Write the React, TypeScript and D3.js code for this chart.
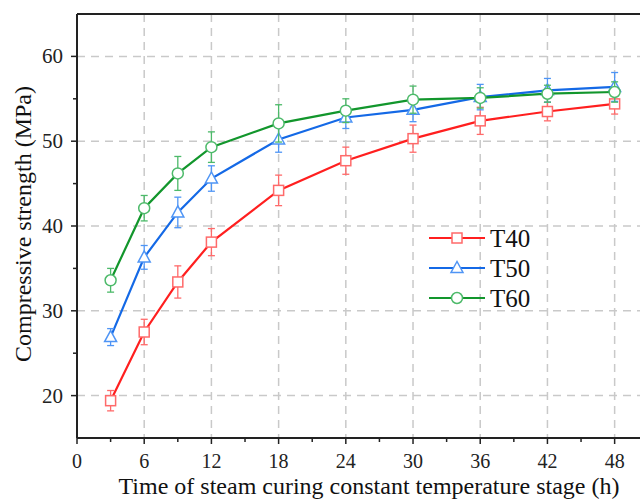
import React from "react"
import * as d3 from "d3"

// strength of the three steam curing temperatures against curing time
const hours = [3, 6, 9, 12, 18, 24, 30, 36, 42, 48]
const t40 = [19.4, 27.5, 33.4, 38.1, 44.2, 47.7, 50.3, 52.4, 53.5, 54.4]
const t50 = [26.9, 36.3, 41.6, 45.6, 50.2, 52.8, 53.7, 55.2, 56.0, 56.4]
const t60 = [33.6, 42.1, 46.2, 49.3, 52.1, 53.6, 54.9, 55.1, 55.6, 55.8]
const t40Err = [1.2, 1.5, 1.9, 1.6, 1.8, 1.6, 1.6, 1.6, 1.1, 1.2]
const t50Err = [1.0, 1.4, 1.8, 1.5, 1.5, 1.3, 1.4, 1.5, 1.4, 1.7]
const t60Err = [1.4, 1.5, 2.0, 1.8, 2.2, 1.4, 1.6, 1.2, 1.0, 1.2]
const seriesNames = ["T40", "T50", "T60"]
const xTicks = [0, 6, 12, 18, 24, 30, 36, 42, 48]
const yTicks = [20, 30, 40, 50, 60]

const W = 640
const H = 500
const left = 77
const top = 14
const bottom = 438
const font = "'Liberation Serif', 'Times New Roman', serif"

const series = [
  { name: seriesNames[0], vals: t40, err: t40Err, line: "#ff1f1f", mark: "#ff6a6a", shape: "square" },
  { name: seriesNames[1], vals: t50, err: t50Err, line: "#1469e6", mark: "#4f95f5", shape: "triangle" },
  { name: seriesNames[2], vals: t60, err: t60Err, line: "#12962c", mark: "#4dba6a", shape: "circle" },
]

function Marker({ shape, x, y, color }: { shape: string; x: number; y: number; color: string }) {
  if (shape === "square")
    return <rect x={x - 5} y={y - 5} width={10} height={10} fill="white" stroke={color} strokeWidth={1.5} />
  if (shape === "triangle") {
    const p = `${x},${y - 6.5} ${x - 6},${y + 4.5} ${x + 6},${y + 4.5}`
    return <polygon points={p} fill="white" stroke={color} strokeWidth={1.5} />
  }
  return <circle cx={x} cy={y} r={5.5} fill="white" stroke={color} strokeWidth={1.5} />
}

export default function App() {
  const x = d3.scaleLinear().domain([0, 50.8]).range([left, 646])
  const y = d3.scaleLinear().domain([15, 65]).range([bottom, top])
  const line = d3.line<number>().x((_, i) => x(hours[i])).y(d => y(d))

  const minorX = d3.range(3, 49, 6)
  const minorY = d3.range(25, 61, 10)

  return (
    <svg width={W} height={H} style={{ position: "absolute", left: 0, top: 0, background: "white", fontFamily: font }}>
      {/* grid */}
      {xTicks.slice(1).map(t => (
        <line key={"gx" + t} x1={x(t)} x2={x(t)} y1={top} y2={bottom} stroke="#c9c9c9" strokeWidth={1.5} strokeDasharray="8,6" />
      ))}
      {yTicks.map(t => (
        <line key={"gy" + t} x1={left} x2={W} y1={y(t)} y2={y(t)} stroke="#c9c9c9" strokeWidth={1.5} strokeDasharray="8,6" />
      ))}

      {/* series */}
      {series.map(s => (
        <g key={s.name}>
          <path d={line(s.vals) || ""} fill="none" stroke={s.line} strokeWidth={2.2} />
          {s.vals.map((v, i) => {
            const cx = x(hours[i])
            const y1 = y(v + s.err[i])
            const y2 = y(v - s.err[i])
            return (
              <g key={i} stroke={s.mark} strokeWidth={1.3}>
                <line x1={cx} x2={cx} y1={y1} y2={y2} />
                <line x1={cx - 3.5} x2={cx + 3.5} y1={y1} y2={y1} />
                <line x1={cx - 3.5} x2={cx + 3.5} y1={y2} y2={y2} />
              </g>
            )
          })}
          {s.vals.map((v, i) => (
            <Marker key={"m" + i} shape={s.shape} x={x(hours[i])} y={y(v)} color={s.mark} />
          ))}
        </g>
      ))}

      {/* frame */}
      <line x1={left} x2={W} y1={top} y2={top} stroke="#222" strokeWidth={2} />
      <line x1={left} x2={W} y1={bottom} y2={bottom} stroke="#222" strokeWidth={2} />
      <line x1={left} x2={left} y1={top} y2={bottom} stroke="#222" strokeWidth={2} />

      {/* x axis ticks */}
      {xTicks.map(t => (
        <g key={"xt" + t}>
          <line x1={x(t)} x2={x(t)} y1={bottom} y2={bottom + 6} stroke="#222" strokeWidth={1.5} />
          <text x={x(t)} y={bottom + 30} textAnchor="middle" fontSize={20} fill="#222">{t}</text>
        </g>
      ))}
      {minorX.map(t => (
        <line key={"xm" + t} x1={x(t)} x2={x(t)} y1={bottom} y2={bottom + 4} stroke="#222" strokeWidth={1.5} />
      ))}

      {/* y axis ticks */}
      {yTicks.map(t => (
        <g key={"yt" + t}>
          <line x1={left - 6} x2={left} y1={y(t)} y2={y(t)} stroke="#222" strokeWidth={1.5} />
          <text x={left - 14} y={y(t) + 7} textAnchor="end" fontSize={21} fill="#222">{t}</text>
        </g>
      ))}
      {minorY.map(t => (
        <line key={"ym" + t} x1={left - 4} x2={left} y1={y(t)} y2={y(t)} stroke="#222" strokeWidth={1.5} />
      ))}

      {/* titles */}
      <text x={369} y={494} textAnchor="middle" fontSize={24} fill="#111">
        Time of steam curing constant temperature stage (h)
      </text>
      <text transform={`translate(31,${(top + bottom) / 2 - 2}) rotate(-90)`} textAnchor="middle" fontSize={24} fill="#111">
        Compressive strength (MPa)
      </text>

      {/* legend */}
      {series.map((s, i) => {
        const ly = 238 + i * 30
        return (
          <g key={"lg" + s.name}>
            <line x1={429} x2={485} y1={ly} y2={ly} stroke={s.line} strokeWidth={2} />
            <Marker shape={s.shape} x={457} y={ly} color={s.mark} />
            <text x={490} y={ly + 9} fontSize={25} fill="#111">{s.name}</text>
          </g>
        )
      })}
    </svg>
  )
}
